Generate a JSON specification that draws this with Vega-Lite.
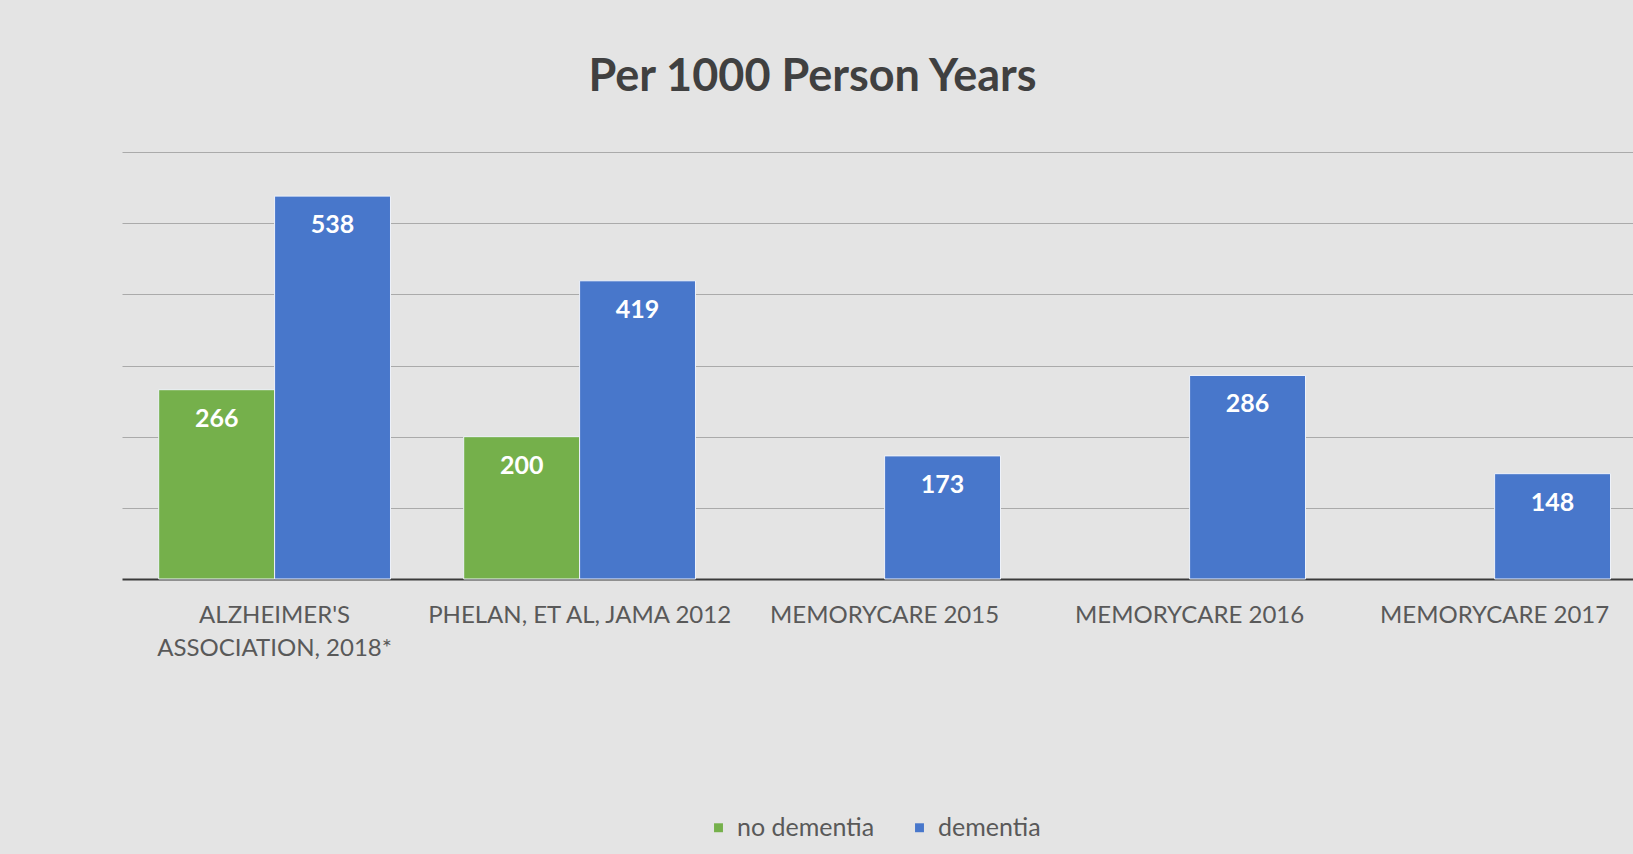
{
  "$schema": "https://vega.github.io/schema/vega-lite/v6.json",
  "autosize": "none",
  "width": 1511,
  "height": 427,
  "padding": {"left": 122, "top": 152, "right": 0, "bottom": 275},
  "background": "#e4e4e4",
  "title": {
    "text": "Per 1000 Person Years",
    "font": "Lato",
    "fontSize": 45,
    "fontWeight": "bold",
    "color": "#404040",
    "anchor": "middle",
    "dx": -65,
    "offset": 52
  },
  "data": {
    "values": [
      {"source": "ALZHEIMER'S ASSOCIATION, 2018*", "group": "no dementia", "rate": 266},
      {"source": "ALZHEIMER'S ASSOCIATION, 2018*", "group": "dementia", "rate": 538},
      {"source": "PHELAN, ET AL, JAMA 2012", "group": "no dementia", "rate": 200},
      {"source": "PHELAN, ET AL, JAMA 2012", "group": "dementia", "rate": 419},
      {"source": "MEMORYCARE 2015", "group": "dementia", "rate": 173},
      {"source": "MEMORYCARE 2016", "group": "dementia", "rate": 286},
      {"source": "MEMORYCARE 2017", "group": "dementia", "rate": 148}
    ]
  },
  "encoding": {
    "x": {
      "field": "source",
      "type": "nominal",
      "sort": null,
      "scale": {"paddingInner": 0.24, "paddingOuter": 0.097, "align": 0.62},
      "axis": {
        "title": null,
        "labelAngle": 0,
        "labelFont": "Lato",
        "labelFontSize": 24,
        "labelColor": "#595959",
        "labelPadding": 24,
        "labelLineHeight": 33,
        "labelLimit": 400,
        "ticks": false,
        "domainColor": "#3a3a3a",
        "domainWidth": 2,
        "labelExpr": "datum.label == \"ALZHEIMER'S ASSOCIATION, 2018*\" ? [\"ALZHEIMER'S\", \"ASSOCIATION, 2018*\"] : datum.label"
      }
    },
    "xOffset": {
      "field": "group",
      "type": "nominal",
      "sort": ["no dementia", "dementia"],
      "scale": {"domain": ["no dementia", "dementia"], "paddingInner": 0, "paddingOuter": 0}
    },
    "y": {
      "field": "rate",
      "type": "quantitative",
      "scale": {"domain": [0, 600], "nice": false},
      "axis": {
        "title": null,
        "labels": false,
        "ticks": false,
        "domain": false,
        "grid": true,
        "gridColor": "#aaaaaa",
        "gridWidth": 1,
        "values": [100, 200, 300, 400, 500, 600]
      }
    }
  },
  "layer": [
    {
      "mark": {"type": "bar", "stroke": "#eef2fa", "strokeWidth": 1},
      "encoding": {
        "color": {
          "field": "group",
          "type": "nominal",
          "scale": {"domain": ["no dementia", "dementia"], "range": ["#75B04B", "#4877CB"]},
          "legend": {
            "title": null,
            "orient": "none",
            "legendX": 584,
            "legendY": 663,
            "direction": "horizontal",
            "symbolType": "square",
            "symbolSize": 80,
            "symbolStrokeWidth": 0,
            "labelFont": "Lato",
            "labelFontSize": 25,
            "labelColor": "#595959",
            "columnPadding": 32,
            "labelOffset": 6
          }
        }
      }
    },
    {
      "mark": {
        "type": "text",
        "dy": 29,
        "font": "Lato",
        "fontSize": 25,
        "fontWeight": "bold",
        "color": "#ffffff"
      },
      "encoding": {"text": {"field": "rate", "type": "quantitative"}}
    }
  ],
  "config": {"view": {"stroke": null}}
}
